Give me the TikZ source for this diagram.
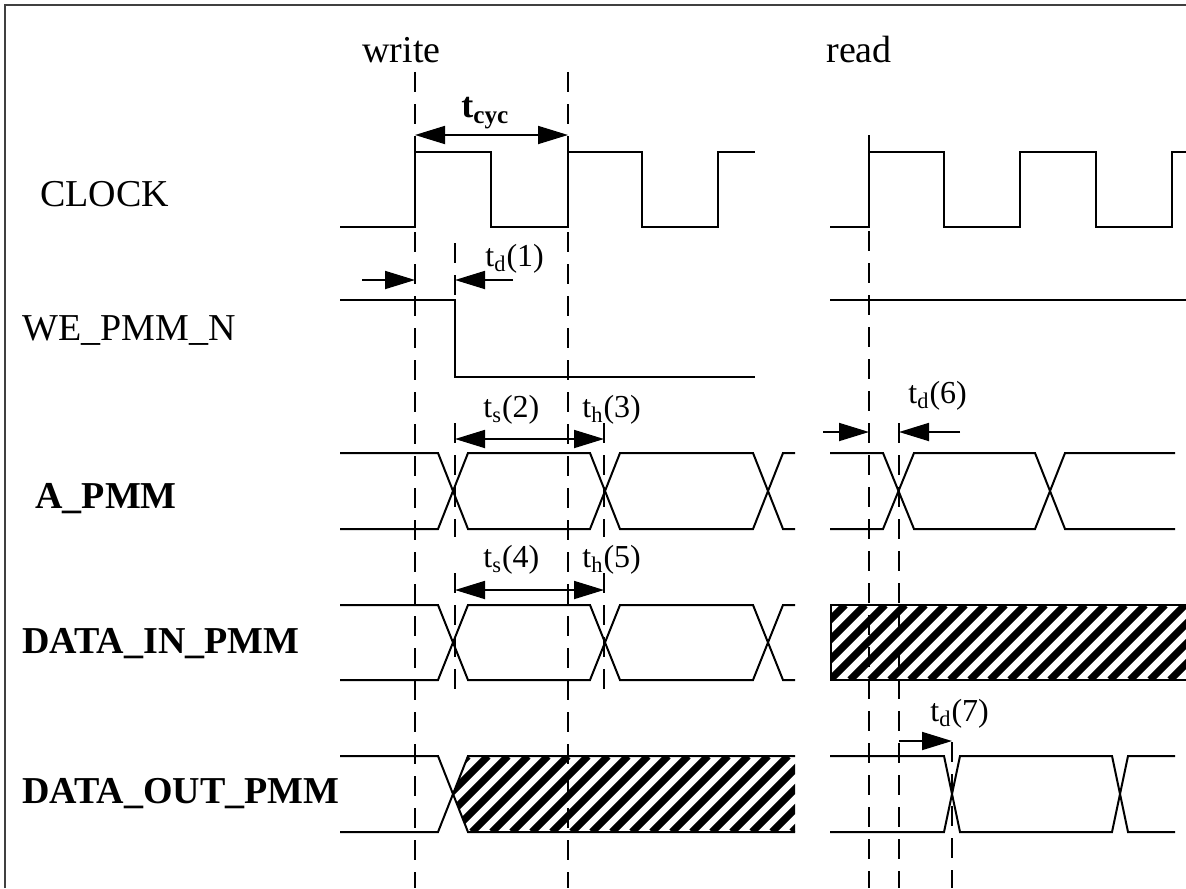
\documentclass[tikz,border=0pt]{standalone}
\usepackage{fontspec}
\setmainfont{Liberation Serif}
\usetikzlibrary{arrows.meta}

\begin{document}
\begin{tikzpicture}[x=0.5pt, y=-0.5pt, >={Triangle[length=15pt,width=9pt]},
    sig/.style={line width=1pt, line join=miter},
    guide/.style={line width=0.9pt, dash pattern=on 10pt off 6pt},
    tarrow/.style={line width=0.9pt},
    hatch/.style={line width=3.6pt},
    lbl/.style={font=\fontsize{19}{22}\selectfont, anchor=base west, inner sep=0pt},
    blbl/.style={lbl, font=\fontsize{19}{22}\selectfont\bfseries},
    tlbl/.style={font=\fontsize{16}{19}\selectfont, anchor=base west, inner sep=0pt}]
    \useasboundingbox (0,0) rectangle (1186,888);
    % Frame
    \draw[line width=1.1pt, black!75] (5,888) -- (5,5) -- (1186,5);

    % Signal names
    \node[lbl] (wrlbl) at (362,62) {write};
    \node[lbl] (rdlbl) at (826,62) {read};
    \node[lbl] (clklbl) at (40,206) {CLOCK};
    \node[lbl] (welbl) at (22,340) {WE\_PMM\_N};
    \node[blbl] (albl) at (35,508) {A\_PMM};
    \node[blbl] (dinlbl) at (22,653) {DATA\_IN\_PMM};
    \node[blbl] (doutlbl) at (22,803) {DATA\_OUT\_PMM};

    % Guide lines
    \draw[guide] (415,72) -- (415,888);
    \draw[guide] (568,72) -- (568,888);
    \draw[guide] (869,135) -- (869,888);
    \draw[guide] (899,423) -- (899,888);
    \draw[guide] (952,742) -- (952,888);
    \draw[guide] (455,243) -- (455,297);
    \foreach \x in {455, 604} {
        \draw[guide] (\x,423) -- (\x,537);
        \draw[guide] (\x,573) -- (\x,690);
    }

    % CLOCK
    \draw[sig] (340,227) -- (415,227) -- (415,152) -- (491,152) -- (491,227) -- (568,227)
        -- (568,152) -- (642,152) -- (642,227) -- (718,227) -- (718,152) -- (755,152);
    \draw[sig] (830,227) -- (869,227) -- (869,152) -- (944,152) -- (944,227) -- (1020,227)
        -- (1020,152) -- (1096,152) -- (1096,227) -- (1172,227) -- (1172,152) -- (1186,152);

    % WE_PMM_N
    \draw[sig] (340,300) -- (455,300) -- (455,377) -- (755,377);
    \draw[sig] (830,300) -- (1186,300);

    % A_PMM and DATA_IN_PMM (write)
    \foreach \hi/\lo in {453/529, 605/680} {
        \draw[sig] (340,\hi) -- (438,\hi) -- (468,\lo) -- (590,\lo) -- (620,\hi) -- (753,\hi) -- (783,\lo) -- (795,\lo);
        \draw[sig] (340,\lo) -- (438,\lo) -- (468,\hi) -- (590,\hi) -- (620,\lo) -- (753,\lo) -- (783,\hi) -- (795,\hi);
    }
    % A_PMM (read)
    \draw[sig] (830,453) -- (883,453) -- (914,529) -- (1035,529) -- (1065,453) -- (1175,453);
    \draw[sig] (830,529) -- (883,529) -- (914,453) -- (1035,453) -- (1065,529) -- (1175,529);

    % DATA_IN_PMM (read): undefined
    \begin{scope}
        \clip (831,605) rectangle (1186,680);
        \foreach \x in {750,770,...,1200} \draw[hatch] (\x,680) -- (\x+75,605);
    \end{scope}
    \draw[sig] (1186,605) -- (831,605) -- (831,680) -- (1186,680);

    % DATA_OUT_PMM (write)
    \begin{scope}
        \clip (453,794) -- (468,756) -- (795,756) -- (795,832) -- (468,832) -- cycle;
        \foreach \x in {372,392,...,812} \draw[hatch] (\x,832) -- (\x+76,756);
    \end{scope}
    \draw[sig] (340,756) -- (438,756) -- (468,832) -- (795,832);
    \draw[sig] (340,832) -- (438,832) -- (468,756) -- (795,756);
    % DATA_OUT_PMM (read)
    \draw[sig] (830,756) -- (944,756) -- (960,832) -- (1112,832) -- (1128,756) -- (1175,756);
    \draw[sig] (830,832) -- (944,832) -- (960,756) -- (1112,756) -- (1128,832) -- (1175,832);

    % Timing arrows
    \draw[tarrow, <->] (415,135) -- (568,135);
    \draw[tarrow, ->] (362,280) -- (415,280);
    \draw[tarrow, ->] (513,280) -- (455,280);
    \draw[tarrow, <->] (455,439) -- (604,439);
    \draw[tarrow, <->] (455,590) -- (604,590);
    \draw[tarrow, ->] (823,432) -- (869,432);
    \draw[tarrow, ->] (960,432) -- (899,432);
    \draw[tarrow, ->] (899,741) -- (952,741);

    % Timing labels
    \node[tlbl, font=\fontsize{18}{21}\selectfont\bfseries] (tcyc) at (461,118) {t\textsubscript{cyc}};
    \node[tlbl] (td1) at (485,266) {t\textsubscript{d}(1)};
    \node[tlbl] (ts2) at (483,417) {t\textsubscript{s}(2)};
    \node[tlbl] (th3) at (582,417) {t\textsubscript{h}(3)};
    \node[tlbl] (ts4) at (483,567) {t\textsubscript{s}(4)};
    \node[tlbl] (th5) at (582,567) {t\textsubscript{h}(5)};
    \node[tlbl] (td6) at (908,403) {t\textsubscript{d}(6)};
    \node[tlbl] (td7) at (930,721) {t\textsubscript{d}(7)};
\end{tikzpicture}
\end{document}
